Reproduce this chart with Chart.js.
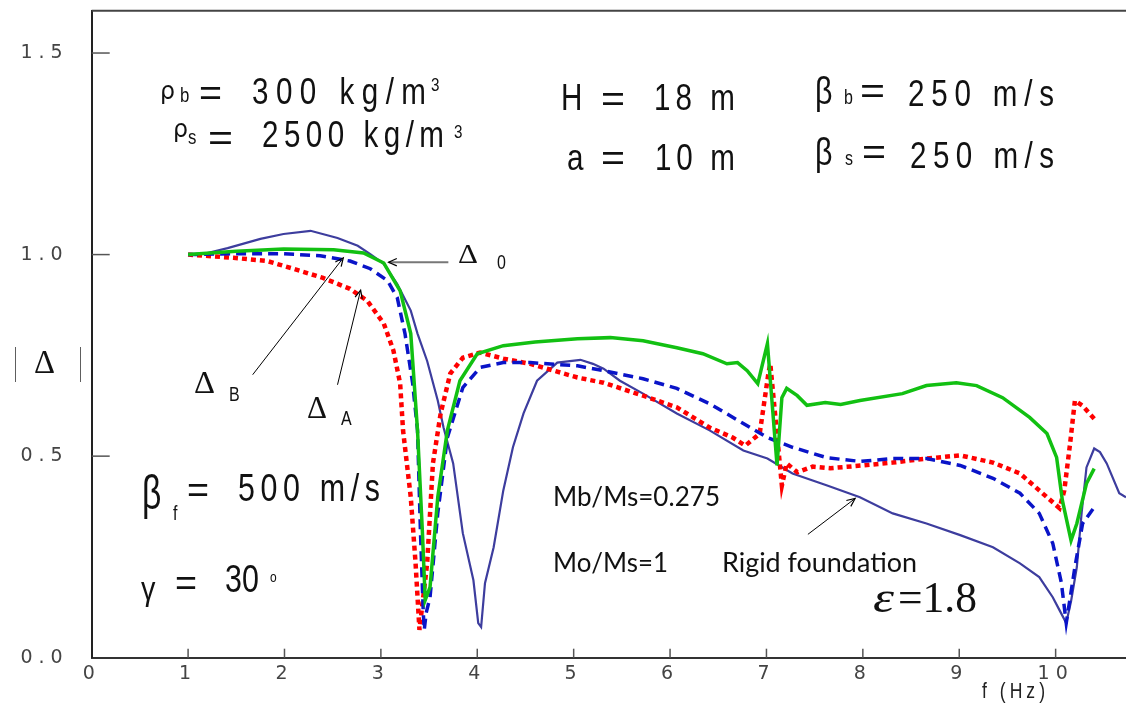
<!DOCTYPE html>
<html>
<head>
<meta charset="utf-8">
<script src="https://cdn.jsdelivr.net/npm/chart.js@4.4.0/dist/chart.umd.min.js"></script>
<style>
  html, body { margin: 0; padding: 0; background: #fff; }
  canvas { display: block; }
</style>
</head>
<body>
<canvas id="chart" width="1126" height="706"></canvas>
<script>
// tick values / labels
const xTickVals = [0, 1, 2, 3, 4, 5, 6, 7, 8, 9, 10];
const yTickLabels = ['0.0', '0.5', '1.0', '1.5'];

// Rigid foundation (thin navy)
const fRigid = [1.0, 1.2, 1.41, 1.75, 1.99, 2.27, 2.55, 2.76, 2.89, 3.03, 3.17, 3.31, 3.38, 3.48, 3.59, 3.65, 3.75, 3.85, 3.96, 4.01,
  4.04, 4.08, 4.17, 4.27, 4.37, 4.48, 4.62, 4.83, 5.07, 5.2, 5.31, 5.48, 5.72, 6.07, 6.41, 6.76, 7.01, 7.27, 7.63, 7.97,
  8.31, 8.66, 9.01, 9.35, 9.63, 9.83, 9.97, 10.04, 10.11, 10.16, 10.22, 10.27, 10.32, 10.40, 10.46, 10.53, 10.66, 10.73];
const dRigid = [1.0, 1.004, 1.016, 1.039, 1.051, 1.059, 1.041, 1.022, 1.001, 0.977, 0.927, 0.861, 0.804, 0.736, 0.638, 0.571, 0.482, 0.309, 0.192, 0.086,
  0.076, 0.185, 0.274, 0.415, 0.522, 0.606, 0.687, 0.732, 0.739, 0.729, 0.717, 0.687, 0.655, 0.606, 0.564, 0.514, 0.494, 0.457, 0.427, 0.398,
  0.358, 0.333, 0.304, 0.274, 0.234, 0.2, 0.15, 0.118, 0.086, 0.14, 0.225, 0.36, 0.472, 0.519, 0.51, 0.482, 0.408, 0.398];

// Delta 0 (green solid)
const fD0 = [1.0, 1.5, 1.99, 2.51, 2.82, 3.03, 3.2, 3.31, 3.38, 3.43, 3.46, 3.51, 3.59, 3.69, 3.82, 4.0, 4.27, 4.6, 5.04, 5.38,
  5.72, 6.07, 6.34, 6.59, 6.7, 6.8, 6.91, 7.01, 7.11, 7.16, 7.21, 7.32, 7.42, 7.61, 7.77, 7.97, 8.41, 8.66, 8.97, 9.18,
  9.45, 9.73, 9.91, 10.01, 10.07, 10.16, 10.22, 10.32, 10.4];
const dD0 = [1.0, 1.008, 1.014, 1.012, 1.004, 0.979, 0.91, 0.804, 0.564, 0.316, 0.143, 0.175, 0.398, 0.564, 0.687, 0.754, 0.774, 0.783, 0.791, 0.794,
  0.786, 0.769, 0.754, 0.729, 0.732, 0.712, 0.68, 0.779, 0.477, 0.645, 0.668, 0.65, 0.626, 0.633, 0.628, 0.638, 0.655, 0.675, 0.682, 0.675,
  0.645, 0.596, 0.556, 0.497, 0.39, 0.291, 0.333, 0.432, 0.469];

// Delta B (blue dashed)
const fDB = [1.0, 1.47, 1.99, 2.37, 2.68, 2.89, 3.07, 3.17, 3.25, 3.33, 3.38, 3.41, 3.44, 3.45, 3.47, 3.51, 3.59, 3.69, 3.85, 4.03,
  4.27, 4.55, 5.04, 5.31, 5.72, 6.07, 6.41, 6.76, 7.01, 7.27, 7.63, 7.97, 8.31, 8.66, 9.01, 9.35, 9.63, 9.83, 9.97, 10.06,
  10.11, 10.2, 10.28, 10.4];
const dDB = [1.0, 1.002, 1.002, 0.997, 0.984, 0.965, 0.935, 0.893, 0.804, 0.68, 0.564, 0.316, 0.111, 0.069, 0.111, 0.15, 0.358, 0.546, 0.67, 0.72,
  0.732, 0.732, 0.724, 0.712, 0.692, 0.668, 0.63, 0.581, 0.546, 0.522, 0.496, 0.487, 0.494, 0.494, 0.477, 0.445, 0.408, 0.358, 0.284, 0.185,
  0.086, 0.225, 0.333, 0.373];

// Delta A (red dotted)
const fDA = [1.0, 1.47, 1.82, 2.09, 2.4, 2.68, 2.86, 3.03, 3.13, 3.2, 3.23, 3.31, 3.36, 3.40, 3.48, 3.54, 3.62, 3.72, 3.85, 4.03,
  4.27, 4.55, 5.04, 5.31, 5.72, 6.07, 6.41, 6.65, 6.78, 6.93, 7.02, 7.04, 7.16, 7.21, 7.32, 7.48, 7.66, 8.0, 8.31, 8.66,
  9.01, 9.35, 9.63, 9.83, 10.04, 10.09, 10.15, 10.2, 10.28, 10.4];
const dDA = [1.0, 0.992, 0.984, 0.965, 0.942, 0.915, 0.885, 0.829, 0.762, 0.68, 0.564, 0.398, 0.234, 0.069, 0.234, 0.482, 0.606, 0.705, 0.744, 0.757,
  0.742, 0.729, 0.695, 0.682, 0.65, 0.621, 0.571, 0.546, 0.526, 0.556, 0.705, 0.729, 0.427, 0.482, 0.46, 0.474, 0.47, 0.477, 0.484, 0.494,
  0.502, 0.484, 0.457, 0.415, 0.371, 0.415, 0.531, 0.638, 0.625, 0.593];

const pts = (xs, ys) => xs.map((x, i) => ({ x: x, y: ys[i] }));

const SANS = '"Liberation Sans", Arial, sans-serif';
const SERIF = '"Liberation Serif", "Times New Roman", serif';

// text helpers
function spaced(ctx, str, x, y, w, size, sq, font) {
  ctx.font = size + 'px ' + (font || SANS);
  const chars = [...str];
  const ws = chars.map(c => ctx.measureText(c).width * sq);
  const tot = ws.reduce((a, b) => a + b, 0);
  const gap = chars.length > 1 ? (w - tot) / (chars.length - 1) : 0;
  let cx = x;
  chars.forEach((c, i) => {
    ctx.save();
    ctx.translate(cx, y);
    ctx.scale(sq, 1);
    ctx.fillText(c, 0, 0);
    ctx.restore();
    cx += ws[i] + gap;
  });
}

function fitW(ctx, str, x, y, w, font) {
  ctx.font = font;
  const m = ctx.measureText(str).width;
  ctx.save();
  ctx.translate(x, y);
  ctx.scale(w / m, 1);
  ctx.fillText(str, 0, 0);
  ctx.restore();
}

function arrow(ctx, x1, y1, x2, y2, color, lw) {
  const a = Math.atan2(y2 - y1, x2 - x1);
  const h = 9, s = 0.42;
  ctx.strokeStyle = color;
  ctx.lineWidth = lw;
  ctx.beginPath();
  ctx.moveTo(x1, y1);
  ctx.lineTo(x2, y2);
  ctx.stroke();
  ctx.lineWidth = 1.2;
  ctx.strokeStyle = '#000';
  ctx.beginPath();
  ctx.moveTo(x2 - h * Math.cos(a - s), y2 - h * Math.sin(a - s));
  ctx.lineTo(x2, y2);
  ctx.lineTo(x2 - h * Math.cos(a + s), y2 - h * Math.sin(a + s));
  ctx.stroke();
}

// spacing for the wide tick lettering
const tickSpacing = {
  id: 'tickSpacing',
  beforeDraw(chart) { chart.ctx.letterSpacing = '6px'; },
  beforeDatasetsDraw(chart) { chart.ctx.letterSpacing = '0px'; }
};

// frame, inner ticks, labels and arrows
const annotations = {
  id: 'annotations',
  afterDraw(chart) {
    const ctx = chart.ctx;
    const xs = chart.scales.x, ys = chart.scales.y;
    const a = chart.chartArea;
    const X = v => xs.getPixelForValue(v), Y = v => ys.getPixelForValue(v);
    ctx.save();
    ctx.letterSpacing = '0px';

    // top frame line
    ctx.strokeStyle = '#444';
    ctx.lineWidth = 2;
    ctx.beginPath();
    ctx.moveTo(a.left, a.top);
    ctx.lineTo(a.right, a.top);
    ctx.stroke();

    // inner ticks
    ctx.strokeStyle = '#555';
    ctx.lineWidth = 1.5;
    [0.5, 1.0, 1.5].forEach(v => {
      ctx.beginPath();
      ctx.moveTo(a.left, Y(v));
      ctx.lineTo(a.left + 18, Y(v));
      ctx.stroke();
    });
    xTickVals.slice(1).forEach(v => {
      ctx.beginPath();
      ctx.moveTo(X(v), a.bottom);
      ctx.lineTo(X(v), a.bottom - 9);
      ctx.stroke();
    });

    ctx.fillStyle = '#111';
    ctx.textBaseline = 'alphabetic';
    ctx.textAlign = 'left';

    // rho lines
    fitW(ctx, 'ρ', 160, 99, 15, '25px "DejaVu Sans", sans-serif');
    spaced(ctx, 'b', 180, 102, 8, 21, 0.8);
    fitW(ctx, '=', 199, 105, 23, '36px ' + SANS);
    spaced(ctx, '300 kg/m', 252, 104, 174, 37, 0.8);
    spaced(ctx, '3', 431, 91, 8, 19, 0.8);

    fitW(ctx, 'ρ', 173, 137, 15, '25px "DejaVu Sans", sans-serif');
    spaced(ctx, 's', 188, 144, 8, 21, 0.8);
    fitW(ctx, '=', 208, 150, 25, '36px ' + SANS);
    spaced(ctx, '2500 kg/m', 262, 147, 182, 37, 0.8);
    spaced(ctx, '3', 454, 138, 8, 19, 0.8);

    // H, a
    spaced(ctx, 'H', 561, 110, 15, 37, 0.8);
    fitW(ctx, '=', 601, 111, 24, '36px ' + SANS);
    spaced(ctx, '18 m', 654, 110, 81, 37, 0.8);
    spaced(ctx, 'a', 567, 170, 14, 37, 0.8);
    fitW(ctx, '=', 601, 170, 24, '36px ' + SANS);
    spaced(ctx, '10 m', 655, 170, 80, 37, 0.8);

    // beta b, beta s
    spaced(ctx, 'β', 815, 104, 17, 38, 0.8);
    spaced(ctx, 'b', 844, 104, 8, 20, 0.8);
    fitW(ctx, '=', 860, 103, 25, '36px ' + SANS);
    spaced(ctx, '250 m/s', 908, 106, 146, 37, 0.8);
    spaced(ctx, 'β', 815, 165, 17, 38, 0.8);
    spaced(ctx, 's', 845, 165, 8, 20, 0.8);
    fitW(ctx, '=', 862, 164, 24, '36px ' + SANS);
    spaced(ctx, '250 m/s', 910, 168, 144, 37, 0.8);

    // beta f, gamma
    spaced(ctx, 'β', 142, 509, 20, 48, 0.7);
    spaced(ctx, 'f', 173, 520, 6, 20, 0.8);
    fitW(ctx, '=', 187, 502, 22, '36px ' + SANS);
    spaced(ctx, '500 m/s', 238, 501, 142, 38, 0.8);
    spaced(ctx, 'γ', 141, 600, 16, 34, 0.85);
    fitW(ctx, '=', 175, 595, 22, '36px ' + SANS);
    spaced(ctx, '30', 225, 592, 34, 38, 0.8);
    spaced(ctx, 'o', 270, 582, 7, 15, 0.8);

    // Delta labels
    fitW(ctx, 'Δ', 458, 263, 20, '28px ' + SERIF);
    spaced(ctx, '0', 497, 269, 10, 20, 0.8);
    fitW(ctx, 'Δ', 194, 393, 21, '31px ' + SERIF);
    spaced(ctx, 'B', 229, 401, 10, 20, 0.8);
    fitW(ctx, 'Δ', 307, 418, 20, '31px ' + SERIF);
    spaced(ctx, 'A', 341, 425, 10, 20, 0.8);

    // y axis label | Delta |
    ctx.fillStyle = '#555';
    fitW(ctx, '|', 14, 374, 3, '36px ' + SANS);
    fitW(ctx, '|', 79, 374, 3, '36px ' + SANS);
    ctx.fillStyle = '#111';
    fitW(ctx, 'Δ', 34, 373, 21, '34px ' + SERIF);

    // mass ratios and rigid foundation
    const body = '26px Lato, "Open Sans", sans-serif';
    fitW(ctx, 'Mb/Ms=0.275', 553, 506, 167, body);
    fitW(ctx, 'Mo/Ms=1', 553, 572, 115, body);
    fitW(ctx, 'Rigid foundation', 722, 572, 195, body);

    // epsilon
    fitW(ctx, 'ε', 873, 612, 21, 'italic 44px ' + SERIF);
    fitW(ctx, '=1.8', 898, 612, 79, '45px ' + SERIF);

    // axis title
    ctx.fillStyle = '#222';
    spaced(ctx, 'f (Hz)', 982, 698, 63, 22, 0.8);

    // arrows
    arrow(ctx, X(3.70), Y(0.981), X(3.08), Y(0.981), '#777', 2);
    arrow(ctx, X(1.67), Y(0.702), X(2.61), Y(0.992), '#000', 1);
    arrow(ctx, X(2.55), Y(0.677), X(2.79), Y(0.912), '#000', 1);
    arrow(ctx, X(7.43), Y(0.306), X(7.92), Y(0.395), '#000', 1);

    ctx.restore();
  }
};

const ctx = document.getElementById('chart').getContext('2d');
new Chart(ctx, {
  type: 'line',
  data: {
    datasets: [
      {
        label: 'Δ0',
        data: pts(fD0, dD0),
        borderColor: '#12c012',
        borderWidth: 3.5,
        order: 0
      },
      {
        label: 'ΔB',
        data: pts(fDB, dDB),
        borderColor: '#0a14c8',
        borderWidth: 3.5,
        borderDash: [10, 6],
        order: 1
      },
      {
        label: 'ΔA',
        data: pts(fDA, dDA),
        borderColor: '#ff0000',
        borderWidth: 4.5,
        borderDash: [5, 4],
        order: 2
      },
      {
        label: 'Rigid foundation',
        data: pts(fRigid, dRigid),
        borderColor: '#3d3d9e',
        borderWidth: 2.2,
        order: 3
      }
    ]
  },
  options: {
    responsive: false,
    devicePixelRatio: 1,
    animation: false,
    elements: {
      point: { radius: 0 },
      line: { tension: 0, fill: false, borderCapStyle: 'butt', borderJoinStyle: 'miter' }
    },
    layout: { padding: { top: 10.7, right: 0, left: 0, bottom: 0 } },
    plugins: {
      legend: { display: false },
      tooltip: { enabled: false }
    },
    scales: {
      x: {
        type: 'linear',
        min: 0,
        max: 10.73,
        afterFit: s => { s.height = 48.3; s.paddingLeft = 0; s.paddingRight = 0; },
        afterBuildTicks: s => { s.ticks = xTickVals.map(v => ({ value: v })); },
        ticks: {
          includeBounds: false,
          padding: 5,
          color: '#444',
          font: { family: '"DejaVu Sans", sans-serif', size: 19 },
          maxRotation: 0,
          callback: v => String(v)
        },
        grid: { display: true, drawOnChartArea: false, drawTicks: false },
        border: { display: true, color: '#333', width: 2 }
      },
      y: {
        type: 'linear',
        min: 0,
        max: 1.605,
        afterFit: s => { s.width = 91.7; s.paddingTop = 0; s.paddingBottom = 0; },
        afterBuildTicks: s => { s.ticks = yTickLabels.map((t, i) => ({ value: i * 0.5 })); },
        ticks: {
          includeBounds: false,
          padding: 23,
          color: '#444',
          font: { family: '"DejaVu Sans", sans-serif', size: 19 },
          callback: (v) => yTickLabels[Math.round(v / 0.5)]
        },
        grid: { display: true, drawOnChartArea: false, drawTicks: false },
        border: { display: true, color: '#222', width: 2 }
      }
    }
  },
  plugins: [tickSpacing, annotations]
});
</script>
</body>
</html>
